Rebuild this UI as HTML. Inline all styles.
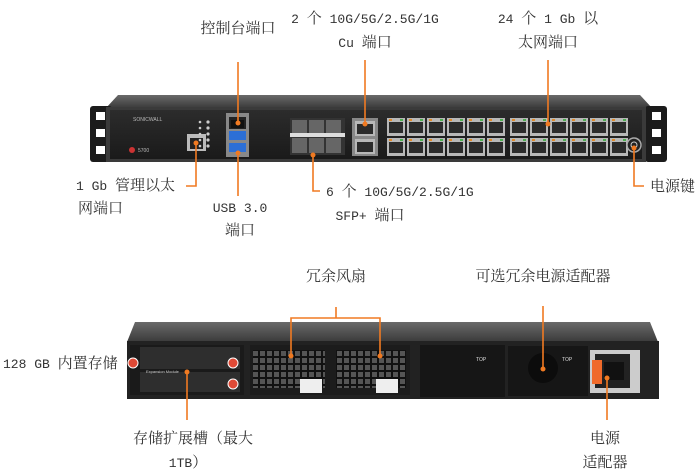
<!DOCTYPE html>
<html><head><meta charset="utf-8"><style>
html,body{margin:0;padding:0;background:#fff;width:700px;height:474px;overflow:hidden}
svg text{font-family:"Liberation Mono","Noto Serif CJK SC",monospace;font-size:13px;fill:#333}
svg text .c{font-size:15px}
</style></head><body>
<svg width="700" height="474" viewBox="0 0 700 474" xmlns="http://www.w3.org/2000/svg">
<defs>
<linearGradient id="top" x1="0" y1="0" x2="0" y2="1"><stop offset="0" stop-color="#6a6a6a"/><stop offset="1" stop-color="#3a3a3a"/></linearGradient>
<linearGradient id="face" x1="0" y1="0" x2="0" y2="1"><stop offset="0" stop-color="#2c2c2c"/><stop offset="1" stop-color="#1a1a1a"/></linearGradient>
<pattern id="rj" x="386" y="117" width="20" height="20" patternUnits="userSpaceOnUse">
<rect x="1" y="1" width="18" height="18" fill="#b8b8b8"/><rect x="3" y="5" width="14" height="11" fill="#2b2b2b"/><rect x="3" y="2" width="3" height="2" fill="#e08a2a"/><rect x="14" y="2" width="3" height="2" fill="#4caf50"/></pattern>
<pattern id="rj2" x="509" y="117" width="20" height="20" patternUnits="userSpaceOnUse">
<rect x="1" y="1" width="18" height="18" fill="#b8b8b8"/><rect x="3" y="5" width="14" height="11" fill="#2b2b2b"/><rect x="3" y="2" width="3" height="2" fill="#e08a2a"/><rect x="14" y="2" width="3" height="2" fill="#4caf50"/></pattern>
<pattern id="grill" x="0" y="0" width="7" height="7" patternUnits="userSpaceOnUse"><rect width="7" height="7" fill="#111"/><rect x="1" y="1" width="5" height="5" fill="#555"/></pattern>
</defs>

<!-- TOP DEVICE -->
<polygon points="118,95 640,95 652,108 106,108" fill="url(#top)"/>
<rect x="90" y="106" width="22" height="56" rx="3" fill="#1b1b1b"/>
<rect x="645" y="106" width="22" height="56" rx="3" fill="#1b1b1b"/>
<rect x="96" y="112" width="9" height="8" fill="#fff"/><rect x="96" y="129" width="9" height="8" fill="#fff"/><rect x="96" y="146" width="9" height="8" fill="#fff"/>
<rect x="652" y="112" width="9" height="8" fill="#fff"/><rect x="652" y="129" width="9" height="8" fill="#fff"/><rect x="652" y="146" width="9" height="8" fill="#fff"/>
<rect x="106" y="107" width="540" height="55" fill="#3a3a3a"/>
<rect x="110" y="110" width="532" height="49" fill="url(#face)"/>
<text x="133" y="121" style="font-size:5px;fill:#bbb;font-family:'Liberation Sans',sans-serif">SONICWALL</text>
<text x="138" y="152" style="font-size:5px;fill:#bbb;font-family:'Liberation Sans',sans-serif">5700</text>
<circle cx="132" cy="150" r="3" fill="#c33"/>
<rect x="187" y="134" width="19" height="17" fill="#bbb"/><rect x="190" y="138" width="13" height="11" fill="#222"/>
<g fill="#ccc"><circle cx="200" cy="122" r="1.3"/><circle cx="200" cy="128" r="1.3"/><circle cx="200" cy="134" r="1.3"/><circle cx="200" cy="140" r="1.3"/><circle cx="200" cy="146" r="1.3"/>
<circle cx="208" cy="122" r="1.6"/><circle cx="208" cy="128" r="1.6"/><circle cx="208" cy="134" r="1.6"/><circle cx="208" cy="140" r="1.6"/><circle cx="208" cy="146" r="1.6"/></g>
<rect x="226" y="113" width="23" height="44" fill="#888"/>
<rect x="229" y="117" width="17" height="12" fill="#222"/><rect x="231" y="120" width="13" height="8" fill="#111"/>
<rect x="229" y="131" width="17" height="9" fill="#2c6fd6"/><rect x="229" y="143" width="17" height="9" fill="#2c6fd6"/>
<rect x="290" y="118" width="55" height="37" fill="#333"/>
<g fill="#666"><rect x="292" y="120" width="15" height="15"/><rect x="309" y="120" width="15" height="15"/><rect x="326" y="120" width="15" height="15"/>
<rect x="292" y="138" width="15" height="15"/><rect x="309" y="138" width="15" height="15"/><rect x="326" y="138" width="15" height="15"/></g>
<rect x="290" y="133" width="55" height="4" fill="#ddd"/>
<rect x="352" y="118" width="26" height="38" fill="#888"/>
<rect x="355" y="121" width="20" height="15" fill="#b8b8b8"/><rect x="357" y="124" width="16" height="10" fill="#2b2b2b"/>
<rect x="355" y="139" width="20" height="15" fill="#b8b8b8"/><rect x="357" y="142" width="16" height="10" fill="#2b2b2b"/>
<rect x="386" y="117" width="120" height="40" fill="url(#rj)"/>
<rect x="509" y="117" width="120" height="40" fill="url(#rj2)"/>
<circle cx="634" cy="145" r="7" fill="#222" stroke="#aaa" stroke-width="1.5"/><circle cx="634" cy="145" r="3" fill="none" stroke="#ccc"/>

<!-- BOTTOM DEVICE -->
<polygon points="135,322 650,322 658,342 127,342" fill="url(#top)"/>
<rect x="127" y="341" width="532" height="58" fill="#222"/>
<rect x="130" y="345" width="114" height="50" fill="#1a1a1a"/>
<rect x="140" y="347" width="100" height="22" fill="#2e2e2e"/>
<rect x="140" y="372" width="100" height="20" fill="#2e2e2e"/>
<text x="146" y="373" style="font-size:4px;fill:#ccc;font-family:'Liberation Sans',sans-serif">Expansion Module</text>
<g fill="#e04a36" stroke="#fff" stroke-width="1"><circle cx="133" cy="363" r="5"/><circle cx="233" cy="363" r="5"/><circle cx="233" cy="384" r="5"/><circle cx="318" cy="386" r="5"/><circle cx="395" cy="386" r="5"/></g>
<rect x="250" y="345" width="80" height="50" fill="#1c1c1c"/>
<rect x="253" y="350" width="72" height="38" fill="url(#grill)"/>
<rect x="330" y="345" width="80" height="50" fill="#1c1c1c"/>
<rect x="336" y="350" width="70" height="38" fill="url(#grill)"/>
<rect x="300" y="379" width="22" height="14" fill="#eee"/><rect x="376" y="379" width="22" height="14" fill="#eee"/>
<rect x="420" y="345" width="85" height="52" fill="#161616"/>
<rect x="508" y="346" width="80" height="50" fill="#161616"/>
<circle cx="543" cy="368" r="15" fill="#0c0c0c"/>
<text x="476" y="361" style="font-size:5px;fill:#ddd;font-family:'Liberation Sans',sans-serif">TOP</text>
<text x="562" y="361" style="font-size:5px;fill:#ddd;font-family:'Liberation Sans',sans-serif">TOP</text>
<rect x="590" y="350" width="50" height="43" fill="#ccc"/>
<rect x="595" y="354" width="35" height="34" fill="#222"/>
<rect x="592" y="360" width="10" height="24" fill="#f06a2a"/>
<rect x="604" y="362" width="20" height="18" fill="#111"/>

<!-- LEADER LINES -->
<g stroke="#f07a22" stroke-width="1.6" fill="none">
<line x1="238" y1="62" x2="238" y2="123"/>
<line x1="365" y1="60" x2="365" y2="124"/>
<line x1="548" y1="60" x2="548" y2="124"/>
<polyline points="196,143 196,186 186,186"/>
<line x1="238" y1="153" x2="238" y2="196"/>
<polyline points="313,155 313,191 320,191"/>
<polyline points="634,148 634,186 644,186"/>
<line x1="336" y1="307" x2="336" y2="318"/>
<polyline points="291,356 291,318 380,318 380,356"/>
<line x1="543" y1="306" x2="543" y2="369"/>
<line x1="187" y1="372" x2="187" y2="420"/>
<line x1="607" y1="378" x2="607" y2="420"/>
</g>
<g fill="#f07a22"><circle cx="238" cy="123" r="2.5"/><circle cx="365" cy="124" r="2.5"/><circle cx="548" cy="124" r="2.5"/><circle cx="196" cy="143" r="2.5"/><circle cx="238" cy="153" r="2.5"/><circle cx="313" cy="155" r="2.5"/><circle cx="634" cy="148" r="2.5"/><circle cx="291" cy="356" r="2.5"/><circle cx="380" cy="356" r="2.5"/><circle cx="543" cy="369" r="2.5"/><circle cx="187" cy="372" r="2.5"/><circle cx="607" cy="378" r="2.5"/></g>

<!-- LABELS -->
<text x="238" y="33" text-anchor="middle"><tspan class="c">控制台端口</tspan></text>
<text x="365" y="23" text-anchor="middle">2 <tspan class="c">个</tspan> 10G/5G/2.5G/1G</text>
<text x="365" y="47" text-anchor="middle">Cu <tspan class="c">端口</tspan></text>
<text x="548" y="23" text-anchor="middle">24 <tspan class="c">个</tspan> 1 Gb <tspan class="c">以</tspan></text>
<text x="548" y="47" text-anchor="middle"><tspan class="c">太网端口</tspan></text>
<text x="76" y="190">1 Gb <tspan class="c">管理以太</tspan></text>
<text x="78" y="213"><tspan class="c">网端口</tspan></text>
<text x="240" y="212" text-anchor="middle">USB 3.0</text>
<text x="240" y="235" text-anchor="middle"><tspan class="c">端口</tspan></text>
<text x="326" y="196">6 <tspan class="c">个</tspan> 10G/5G/2.5G/1G</text>
<text x="370" y="220" text-anchor="middle">SFP+ <tspan class="c">端口</tspan></text>
<text x="650" y="191"><tspan class="c">电源键</tspan></text>
<text x="336" y="281" text-anchor="middle"><tspan class="c">冗余风扇</tspan></text>
<text x="543" y="281" text-anchor="middle"><tspan class="c">可选冗余电源适配器</tspan></text>
<text x="3" y="368">128 GB <tspan class="c">内置存储</tspan></text>
<text x="193" y="443" text-anchor="middle"><tspan class="c">存储扩展槽（最大</tspan></text>
<text x="188" y="467" text-anchor="middle">1TB<tspan class="c">）</tspan></text>
<text x="605" y="443" text-anchor="middle"><tspan class="c">电源</tspan></text>
<text x="605" y="467" text-anchor="middle"><tspan class="c">适配器</tspan></text>
</svg>
</body></html>
